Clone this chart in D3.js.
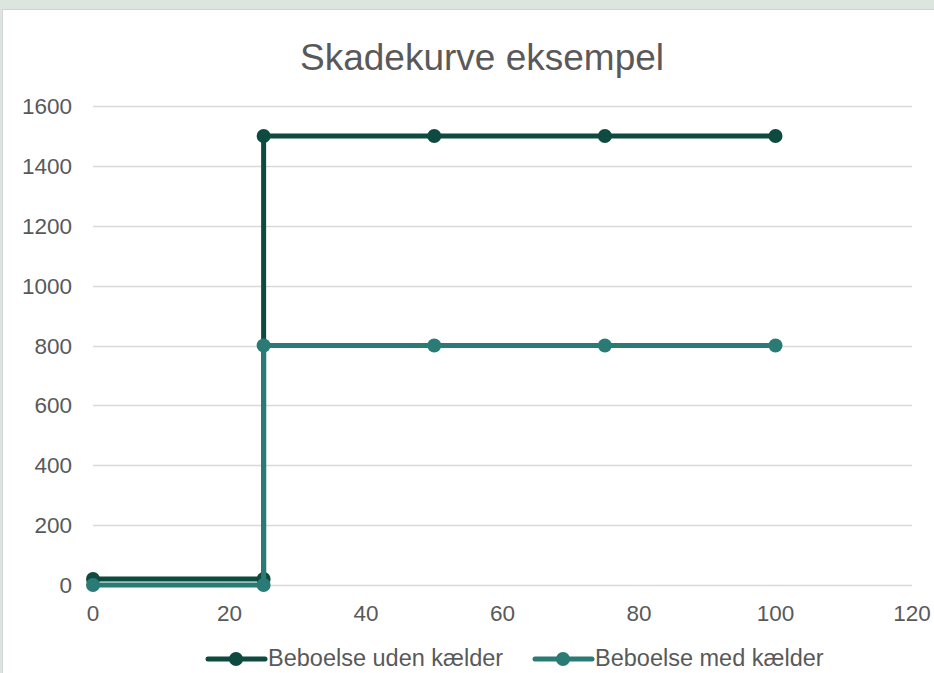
<!DOCTYPE html>
<meta charset="utf-8">
<script src="https://d3js.org/d3.v7.min.js"></script>
<style>
  body { margin: 0; background: #dce6df; }
  text { font-family: "Liberation Sans", Arial, sans-serif; }
</style>
<div id="my_dataviz"></div>

<script>
// Data
var xValues = [0, 25, 25, 50, 75, 100];
var udenKaelder = [20, 20, 1500, 1500, 1500, 1500];
var medKaelder = [0, 0, 800, 800, 800, 800];
var seriesNames = ["Beboelse uden kælder", "Beboelse med kælder"];
var seriesColors = ["#0e4a3f", "#2a7b75"];
var xTicks = [0, 20, 40, 60, 80, 100, 120];
var yTicks = [0, 200, 400, 600, 800, 1000, 1200, 1400, 1600];

var W = 934, H = 673;
var margin = {top: 106, right: 22, bottom: 88, left: 93},
    width = W - margin.left - margin.right,
    height = H - margin.top - margin.bottom;

var root = d3.select("#my_dataviz")
  .append("svg")
    .attr("width", W)
    .attr("height", H)
    .style("display", "block");

// chart frame
root.append("rect")
    .attr("x", 2.5).attr("y", 9.5)
    .attr("width", W).attr("height", H)
    .attr("fill", "white")
    .attr("stroke", "#d4d4d4");

root.append("text")
    .attr("x", 482).attr("y", 70)
    .attr("text-anchor", "middle")
    .attr("font-size", 37)
    .attr("fill", "#595959")
    .text("Skadekurve eksempel");

var svg = root.append("g")
    .attr("transform", `translate(${margin.left},${margin.top})`);

var x = d3.scaleLinear().domain([0, 120]).range([0, width]);
var y = d3.scaleLinear().domain([0, 1600]).range([height, 0]);

// gridlines
svg.append("g")
  .selectAll("line")
  .data(yTicks)
  .join("line")
    .attr("x1", 0).attr("x2", width)
    .attr("y1", d => Math.round(y(d)) + 0.5)
    .attr("y2", d => Math.round(y(d)) + 0.5)
    .attr("stroke", "#d9d9d9")
    .attr("stroke-width", 1.5);

// y tick labels
svg.append("g")
  .selectAll("text")
  .data(yTicks)
  .join("text")
    .attr("x", -21)
    .attr("y", d => y(d))
    .attr("dy", "0.36em")
    .attr("text-anchor", "end")
    .attr("font-size", 22.5)
    .attr("fill", "#595959")
    .text(d => d);

// x tick labels
svg.append("g")
  .selectAll("text")
  .data(xTicks)
  .join("text")
    .attr("x", d => x(d))
    .attr("y", height + 36)
    .attr("text-anchor", "middle")
    .attr("font-size", 22.5)
    .attr("fill", "#595959")
    .text(d => d);

var series = [udenKaelder, medKaelder].map((vals, i) => ({
  name: seriesNames[i],
  color: seriesColors[i],
  points: vals.map((v, j) => ({x: xValues[j], y: v}))
}));

var line = d3.line().x(d => x(d.x)).y(d => y(d.y));

series.forEach(s => {
  var g = svg.append("g");
  g.append("path")
      .attr("d", line(s.points))
      .attr("fill", "none")
      .attr("stroke", s.color)
      .attr("stroke-width", 5)
      .attr("stroke-linejoin", "round");
  g.selectAll("circle")
    .data(s.points)
    .join("circle")
      .attr("cx", d => x(d.x))
      .attr("cy", d => y(d.y))
      .attr("r", 7)
      .attr("fill", s.color);
});

// legend
var legendX = [208, 535];
var legend = root.append("g");
series.forEach((s, i) => {
  var lg = legend.append("g").attr("transform", `translate(${legendX[i]},659)`);
  lg.append("line")
      .attr("x1", 0).attr("x2", 57)
      .attr("stroke", s.color)
      .attr("stroke-width", 5)
      .attr("stroke-linecap", "round");
  lg.append("circle")
      .attr("cx", 28).attr("r", 7)
      .attr("fill", s.color);
  lg.append("text")
      .attr("x", 60)
      .attr("y", 7)
      .attr("font-size", 23.5)
      .attr("fill", "#595959")
      .text(s.name);
});
</script>
